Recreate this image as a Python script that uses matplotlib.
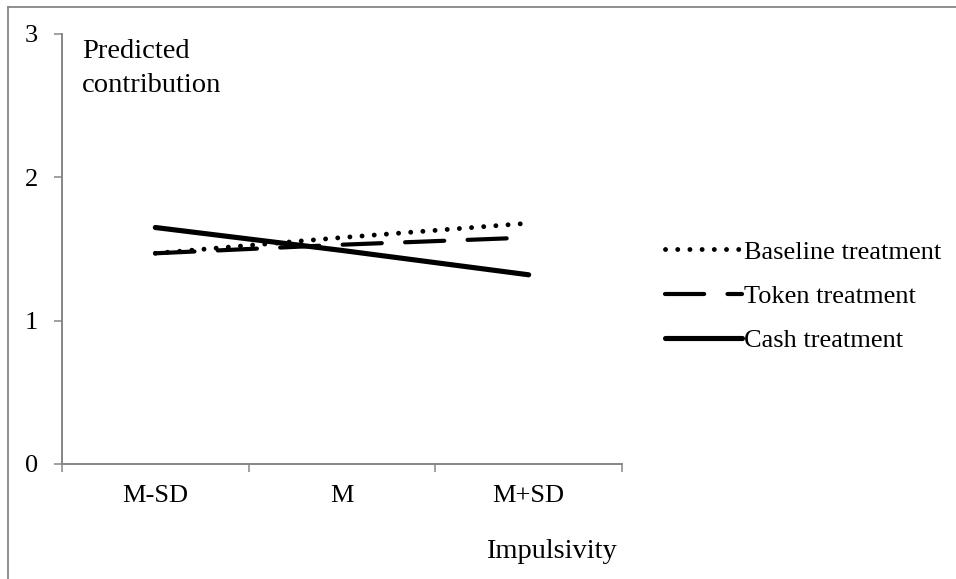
import numpy as np
import matplotlib
matplotlib.use("Agg")
import matplotlib.pyplot as plt
from matplotlib.lines import Line2D

# predicted contribution by impulsivity level
categories = ["M-SD", "M", "M+SD"]
baseline = [1.47, 1.58, 1.68]
token = [1.47, 1.53, 1.58]
cash = [1.65, 1.49, 1.32]
yticks = [0, 1, 2, 3]

plt.rcParams["font.family"] = ["Liberation Serif", "DejaVu Serif"]
gray = "#868686"

fig = plt.figure(figsize=(9.56, 5.79), dpi=100)
ax = fig.add_axes([62 / 956, 1 - 464 / 579, (622 - 62) / 956, (464 - 34) / 579])

x = np.arange(len(categories)) + 0.5

ax.plot(x, baseline, color="black", lw=3.5, linestyle=(0, (0.01, 2.5)),
        dash_capstyle="round", label="Baseline treatment")
ax.plot(x, token, color="black", lw=3.0, linestyle=(0, (9.4, 5.6)),
        dash_capstyle="round", label="Token treatment")
ax.plot(x, cash, color="black", lw=3.7, solid_capstyle="round",
        label="Cash treatment")

ax.set_xlim(0, len(categories))
ax.set_ylim(0, 3)
ax.set_yticks(yticks)
ax.set_yticklabels([str(v) for v in yticks])

# ticks at the category boundaries, labels in the middle
ax.set_xticks(np.arange(len(categories) + 1))
ax.set_xticklabels([])
ax.set_xticks(x, minor=True)
ax.set_xticklabels(categories, minor=True)
ax.tick_params(axis="x", which="major", length=5.8, width=1.1, color=gray)
ax.tick_params(axis="x", which="minor", length=0, pad=15, labelsize=19)
ax.tick_params(axis="y", length=5.8, width=1.1, color=gray, pad=11.5, labelsize=19)

for side in ["top", "right"]:
    ax.spines[side].set_visible(False)
for side in ["left", "bottom"]:
    ax.spines[side].set_color(gray)
    ax.spines[side].set_linewidth(1.4)

# axis titles placed like the original spreadsheet chart
fig.text(81.7 / 956, 1 - 58 / 579, "Predicted", fontsize=20.5, va="baseline", ha="left")
fig.text(81.7 / 956, 1 - 92 / 579, "contribution", fontsize=20.5, va="baseline", ha="left")
fig.text(551 / 956, 1 - 558 / 579, "Impulsivity", fontsize=20.5, va="baseline", ha="center")

ax.legend(loc="center left", bbox_to_anchor=(665 / 956, 1 - 296 / 579),
          bbox_transform=fig.transFigure, frameon=False, fontsize=19,
          handlelength=2.9, handletextpad=0.1, labelspacing=0.78, borderpad=0,
          borderaxespad=0)

# chart area frame (only the top and left edges show in the crop)
fig.add_artist(Line2D([8 / 956, 8 / 956], [0, 1 - 7 / 579], color=gray, lw=1.3))
fig.add_artist(Line2D([8 / 956, 1], [1 - 7 / 579, 1 - 7 / 579], color=gray, lw=1.3))

fig.savefig("out.png", dpi=100)
